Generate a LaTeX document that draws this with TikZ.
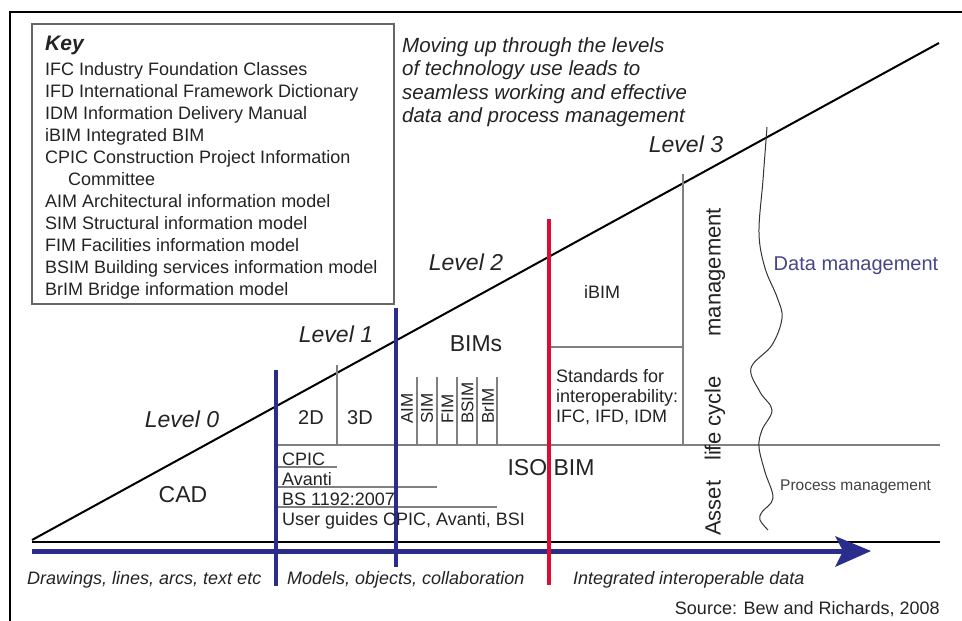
\documentclass[tikz,border=0pt]{standalone}
\usepackage{fontspec}
\setmainfont{Liberation Sans}
\newcommand{\fsz}[1]{\fontsize{#1}{#1}\selectfont}
\definecolor{navyc}{RGB}{43,45,140}
\definecolor{crimc}{RGB}{222,12,50}
\definecolor{greyc}{RGB}{128,128,128}
\definecolor{txtc}{RGB}{35,35,35}
\definecolor{datac}{RGB}{70,70,135}
\tikzset{
  txt/.style={inner sep=0pt, text=txtc},
  keyline/.style={txt, anchor=base west, font=\fsz{18}},
  lvl/.style={txt, anchor=base, font=\fsz{23}\itshape},
  big/.style={txt, anchor=base, font=\fsz{23}},
  topital/.style={txt, anchor=base west, font=\fsz{20.5}\itshape},
  botital/.style={txt, anchor=base west, font=\fsz{18}\itshape},
  smalltxt/.style={txt, anchor=base west, font=\fsz{18}},
  vlab/.style={txt, anchor=west, rotate=90, font=\fsz{17}},
  greyln/.style={draw=greyc, line width=1.5pt},
  blackln/.style={draw=black, line width=2pt},
  blueln/.style={draw=navyc, line width=4pt},
  redln/.style={draw=crimc, line width=4pt},
  wavy/.style={draw=black!80, line width=1pt},
}
\begin{document}
\begin{tikzpicture}[x=1pt,y=-1pt]
\useasboundingbox (0,0) rectangle (962,621);
% outer frame
\coordinate (fbl) at (10,621); \coordinate (ftl) at (10,12); \coordinate (ftr) at (962,12);
\draw[line width=1.5pt] (fbl) -- (ftl) -- (ftr);
% key box
\coordinate (kb1) at (32,24); \coordinate (kb2) at (394,304);
\draw[greyln, draw=black!60] (kb1) rectangle (kb2);
\node[txt, anchor=base west, font=\fsz{21}\bfseries\itshape] (key) at (45,50) {Key};
\node[keyline] (k1) at (45,75) {IFC Industry Foundation Classes};
\node[keyline] (k2) at (45,97) {IFD International Framework Dictionary};
\node[keyline] (k3) at (45,119) {IDM Information Delivery Manual};
\node[keyline] (k4) at (45,141) {iBIM Integrated BIM};
\node[keyline] (k5) at (45,163) {CPIC Construction Project Information};
\node[keyline] (k6) at (68,185) {Committee};
\node[keyline] (k7) at (45,207) {AIM Architectural information model};
\node[keyline] (k8) at (45,229) {SIM Structural information model};
\node[keyline] (k9) at (45,251) {FIM Facilities information model};
\node[keyline] (k10) at (45,273) {BSIM Building services information model};
\node[keyline] (k11) at (45,295) {BrIM Bridge information model};
% top italic text
\node[topital] (m1) at (402,52) {Moving up through the levels};
\node[topital] (m2) at (402,75) {of technology use leads to};
\node[topital] (m3) at (402,99) {seamless working and effective};
\node[topital] (m4) at (402,122) {data and process management};
% main lines
\coordinate (o) at (32,540); \coordinate (dtop) at (939,43);
\coordinate (b1) at (32,542); \coordinate (b2) at (940,542);
\draw[blackln] (b1) -- (b2);
\draw[blackln] (o) -- (dtop);
% blue arrow
\coordinate (a1) at (32,551); \coordinate (a2) at (843,551);
\draw[draw=navyc, line width=5pt] (a1) -- (a2);
\coordinate (ah1) at (835,536); \coordinate (ahtip) at (871,551);
\coordinate (ah2) at (835,567); \coordinate (ahn) at (843,551);
\fill[navyc] (ah1) -- (ahtip) -- (ah2) -- (ahn) -- cycle;
% grey structure
\coordinate (h1) at (276,445); \coordinate (h2) at (940,445);
\draw[greyln] (h1) -- (h2);
\coordinate (d23a) at (337,365); \coordinate (d23b) at (337,445);
\draw[greyln] (d23a) -- (d23b);
\foreach \xx/\nm in {417/s1,437/s2,457/s3,477/s4,497/s5}{
  \coordinate (\nm a) at (\xx,377); \coordinate (\nm b) at (\xx,445);
  \draw[greyln] (\nm a) -- (\nm b);
}
\coordinate (ib1) at (549,347); \coordinate (ib2) at (683,347);
\draw[greyln] (ib1) -- (ib2);
\coordinate (g3a) at (683,174); \coordinate (g3b) at (683,445);
\draw[greyln] (g3a) -- (g3b);
% rules under standards list
\coordinate (r1a) at (276,467); \coordinate (r1b) at (337,467);
\coordinate (r2a) at (276,487); \coordinate (r2b) at (437,487);
\coordinate (r3a) at (276,507); \coordinate (r3b) at (497,507);
\draw[greyln] (r1a) -- (r1b);
\draw[greyln] (r2a) -- (r2b);
\draw[greyln] (r3a) -- (r3b);
% coloured verticals
\coordinate (v1a) at (276,370); \coordinate (v1b) at (276,586);
\coordinate (v2a) at (396,308); \coordinate (v2b) at (396,567);
\coordinate (v3a) at (549,219); \coordinate (v3b) at (549,585);
\draw[blueln] (v1a) -- (v1b);
\draw[blueln] (v2a) -- (v2b);
\draw[redln] (v3a) -- (v3b);
% wavy boundary
\draw[wavy] plot[smooth, tension=0.6] coordinates {(767,127) (763,180) (759,233) (765,268) (777,297) (782,318) (772,345) (751,368) (760,392) (772,410) (762,430) (759,447) (765,472) (773,498) (762,512) (760,520) (768,530)};
% level labels
\node[lvl] (L0) at (182,427) {Level 0};
\node[lvl] (L1) at (336,342) {Level 1};
\node[lvl] (L2) at (466,270) {Level 2};
\node[lvl] (L3) at (686,152) {Level 3};
% region labels
\node[big] (cad) at (183,502) {CAD};
\node[txt, anchor=base, font=\fsz{20}] (t2d) at (311,424) {2D};
\node[txt, anchor=base, font=\fsz{20}] (t3d) at (360,424) {3D};
\node[big] (bims) at (476,351) {BIMs};
\node[txt, anchor=base, font=\fsz{18}] (ibim) at (602,298) {iBIM};
\node[smalltxt] (st1) at (556,382) {Standards for};
\node[smalltxt] (st2) at (556,402) {interoperability:};
\node[smalltxt] (st3) at (556,422) {IFC, IFD, IDM};
\node[big] (iso) at (551,475) {ISO BIM};
\node[smalltxt] (c1) at (282,465) {CPIC};
\node[smalltxt] (c2) at (282,485) {Avanti};
\node[smalltxt] (c3) at (282,505) {BS 1192:2007};
\node[smalltxt] (c4) at (282,525) {User guides CPIC, Avanti, BSI};
\node[vlab] (aim) at (407,424) {AIM};
\node[vlab] (sim) at (427,424) {SIM};
\node[vlab] (fim) at (447.5,424) {FIM};
\node[vlab] (bsim) at (467.5,424) {BSIM};
\node[vlab] (brim) at (488,424) {BrIM};
\node[txt, anchor=west, rotate=90, font=\fsz{22}] (alcm) at (715,536) {Asset\hspace*{20pt}life cycle\hspace*{40pt}management};
\node[txt, anchor=base, font=\fsz{20}, text=datac] (dm) at (856,270) {Data management};
\node[txt, anchor=base west, font=\fsz{15.5}, text=black!75] (pm) at (780,490) {Process management};
% bottom captions
\node[botital] (bc1) at (27,584) {Drawings, lines, arcs, text etc};
\node[botital] (bc2) at (287,584) {Models, objects, collaboration};
\node[botital] (bc3) at (573,584) {Integrated interoperable data};
\node[txt, anchor=base east, font=\fsz{18}] (src) at (940,614) {Source: Bew and Richards, 2008};
\end{tikzpicture}
\end{document}
